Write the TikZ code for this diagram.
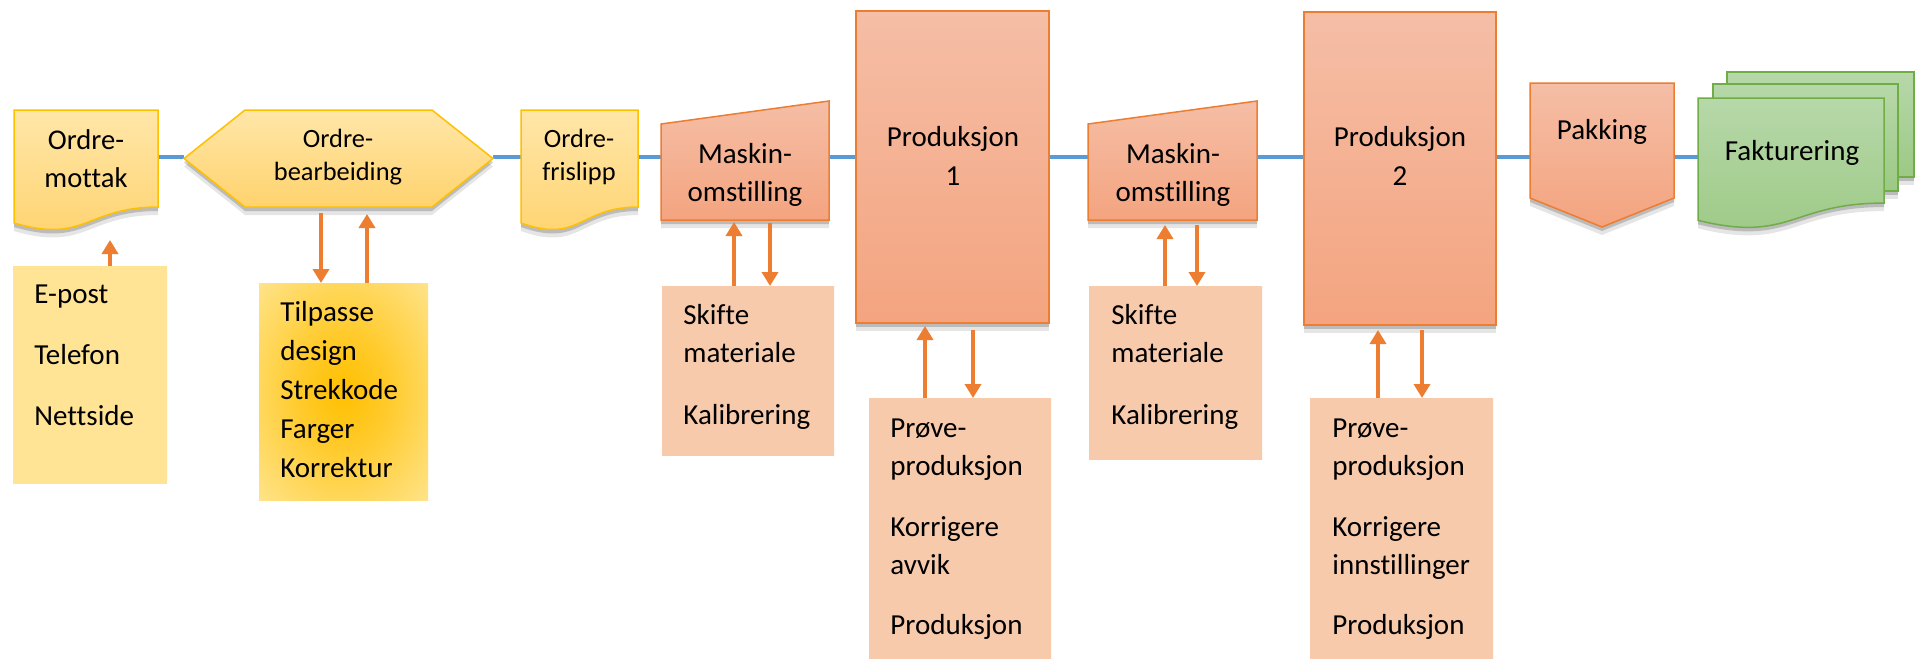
\documentclass[tikz,border=0pt]{standalone}
\usepackage{fontspec}
\setmainfont[Ligatures=NoCommon]{Carlito}
\usetikzlibrary{arrows.meta,shadows,fit}
\definecolor{blueline}{HTML}{5B9BD5}
\definecolor{orline}{HTML}{ED7D31}
\definecolor{goldc}{HTML}{FFC000}
\definecolor{goldb}{HTML}{FFCB2E}
\definecolor{ytop}{HTML}{FFE6A8}
\definecolor{ybot}{HTML}{FFD36E}
\definecolor{otop}{HTML}{F5BEA6}
\definecolor{obot}{HTML}{F4A47F}
\definecolor{gtop}{HTML}{B7D8A9}
\definecolor{gbot}{HTML}{9CC985}
\definecolor{gline}{HTML}{70AD47}
\definecolor{peach}{HTML}{F7CAAC}
\definecolor{peachedge}{HTML}{FBCA68}
\definecolor{lyel}{HTML}{FFE496}
\definecolor{dyel}{HTML}{FFCD50}
\definecolor{tlight}{HTML}{FFE48C}
\pgfdeclareradialshading{epostsh}{\pgfpoint{0bp}{0bp}}{color(0bp)=(lyel);color(36bp)=(lyel);color(66bp)=(dyel)}
\pgfdeclareradialshading{tilpsh}{\pgfpoint{0bp}{0bp}}{color(0bp)=(goldc);color(14bp)=(goldb);color(36bp)=(tlight);color(44bp)=(tlight);color(56bp)=(goldb);color(70bp)=(goldc)}
\pgfdeclareradialshading{peachsh}{\pgfpoint{0bp}{0bp}}{color(0bp)=(peach);color(40bp)=(peach);color(68bp)=(peachedge)}
\newcommand\flowdoc[5]{%
  \path[#1] (#2,#3) -- ({#2+#4},#3) -- ({#2+#4},{#3+0.802*#5})
    .. controls ({#2+0.5*#4},{#3+0.802*#5}) and ({#2+0.5*#4},{#3+1.108*#5}) .. (#2,{#3+0.934*#5}) -- cycle;}
\tikzset{
  shad/.style={drop shadow={shadow xshift=0pt,shadow yshift=-2pt,opacity=0.18,fill=black},
               drop shadow={shadow xshift=0pt,shadow yshift=-4pt,opacity=0.10,fill=black}},
  yshape/.style={shad,draw=goldc,line width=0.75pt,top color=ytop,bottom color=ybot},
  oshape/.style={shad,draw=orline,line width=0.75pt,top color=otop,bottom color=obot},
  gshape/.style={shad,draw=gline,line width=0.75pt,top color=gtop,bottom color=gbot},
  holder/.style={inner sep=0pt,outer sep=0pt,draw=none},
  epbox/.style={holder,shade,shading=epostsh},
  tpbox/.style={holder,shade,shading=tilpsh},
  pcbox/.style={holder,shade,shading=peachsh},
  prodbox/.style={holder,oshape},
  txt/.style={inner sep=0pt,font=\fontsize{14.5}{19}\selectfont,text=black},
  ctxt/.style={txt,align=center,anchor=base},
  ltxt/.style={txt,align=left,anchor=base west},
  flow/.style={draw=blueline,line width=2pt},
  arr/.style={draw=orline,line width=2.2pt,-{Triangle[width=8pt,length=7pt]}},
}
\begin{document}
\begin{tikzpicture}[x=0.5pt,y=-0.5pt]
\useasboundingbox (0,0) rectangle (1919,659);
\fill[white] (0,0) rectangle (1919,659);

% holders for custom shapes
\node[holder, fit={(14,110) (158,231)}] (mottak) {};
\node[holder, fit={(184,110) (493,207)}] (hex) {};
\node[holder, fit={(521,110) (638,231)}] (frislipp) {};
\node[holder, fit={(661,101) (829,220)}] (maskin1) {};
\node[holder, fit={(1088,101) (1257,220)}] (maskin2) {};
\node[holder, fit={(1530,83) (1674,227)}] (pakking) {};
\node[holder, fit={(1698,98) (1884,229)}] (faktura) {};

% flow line
\draw[flow] (mottak.east |- 0,157) -- (hex.west |- 0,157);
\draw[flow] (hex.east |- 0,157) -- (frislipp.west |- 0,157);
\draw[flow] (frislipp.east |- 0,157) -- (maskin1.west |- 0,157);
\draw[flow] (maskin1.east |- 0,157) -- (1049,157);
\draw[flow] (1049,157) -- (maskin2.west |- 0,157);
\draw[flow] (maskin2.east |- 0,157) -- (1304,157);
\draw[flow] (1496,157) -- (pakking.west |- 0,157);
\draw[flow] (pakking.east |- 0,157) -- (faktura.west |- 0,157);

% shapes
\flowdoc{yshape}{14}{110}{144}{121}
\path[yshape] (184,158.5) -- (245,110) -- (432,110) -- (493,158.5) -- (432,207) -- (245,207) -- cycle;
\flowdoc{yshape}{521}{110}{117}{121}
\path[oshape] (661,124) -- (829,101) -- (829,220) -- (661,220) -- cycle;
\path[oshape] (1088,124) -- (1257,101) -- (1257,220) -- (1088,220) -- cycle;
\path[oshape] (1530,83) -- (1674,83) -- (1674,198) -- (1602,227) -- (1530,198) -- cycle;
\path[gshape] (1727,72) rectangle (1914,177);
\path[gshape] (1713,84) rectangle (1898,191);
\flowdoc{gshape}{1698}{98}{186}{131}

\node[prodbox, fit={(856,11) (1049,323)}] (prod1) {};
\node[prodbox, fit={(1304,12) (1496,325)}] (prod2) {};

\node[epbox, fit={(13,266) (167,483)}] (epost) {};
\node[tpbox, fit={(259,283) (428,500)}] (tilp) {};
\node[pcbox, fit={(662,286) (834,455)}] (skifte1) {};
\node[pcbox, fit={(869,398) (1051,659)}] (prove1) {};
\node[pcbox, fit={(1089,286) (1262,459)}] (skifte2) {};
\node[pcbox, fit={(1310,398) (1493,659)}] (prove2) {};

% arrows
\draw[arr, shorten >=4.5pt] (epost.north -| 110,0) -- (mottak.south -| 110,0);
\draw[arr, shorten <=3pt] (hex.south -| 321,0) -- (tilp.north -| 321,0);
\draw[arr, shorten >=3.5pt] (tilp.north -| 367,0) -- (hex.south -| 367,0);
\draw[arr, shorten >=1pt] (skifte1.north -| 734,0) -- (maskin1.south -| 734,0);
\draw[arr, shorten <=1.5pt] (maskin1.south -| 770,0) -- (skifte1.north -| 770,0);
\draw[arr, shorten >=1.5pt] (prove1.north -| 925,0) -- (prod1.south -| 925,0);
\draw[arr, shorten <=3.5pt] (prod1.south -| 973,0) -- (prove1.north -| 973,0);
\draw[arr, shorten >=2.5pt] (skifte2.north -| 1165,0) -- (maskin2.south -| 1165,0);
\draw[arr, shorten <=2.5pt] (maskin2.south -| 1197,0) -- (skifte2.north -| 1197,0);
\draw[arr, shorten >=2.5pt] (prove2.north -| 1378,0) -- (prod2.south -| 1378,0);
\draw[arr, shorten <=2.5pt] (prod2.south -| 1422,0) -- (prove2.north -| 1422,0);

% texts (anchor = baseline of the last line)
\node[ctxt,font=\fontsize{14.3}{19}\selectfont] (mottak-t) at (86,187) {Ordre-\\mottak};
\node[ctxt,font=\fontsize{13.2}{16.5}\selectfont] (hex-t) at (338,180) {Ordre-\\bearbeiding};
\node[ctxt,font=\fontsize{13.2}{16.5}\selectfont] (frislipp-t) at (579,180) {Ordre-\\frislipp};
\node[ctxt] (maskin1-t) at (745,201) {Maskin-\\omstilling};
\node[ctxt,font=\fontsize{14.5}{19.5}\selectfont] (prod1-t) at (953,185) {Produksjon\\1};
\node[ctxt] (maskin2-t) at (1173,201) {Maskin-\\omstilling};
\node[ctxt,font=\fontsize{14.5}{19.5}\selectfont] (prod2-t) at (1400,185) {Produksjon\\2};
\node[ctxt] (pakking-t) at (1602,139) {Pakking};
\node[ctxt] (faktura-t) at (1792,160) {Fakturering};

\node[ltxt,font=\fontsize{14.5}{30.5}\selectfont] (epost-t) at (34,425) {E-post\\Telefon\\Nettside};
\node[ltxt,font=\fontsize{14.5}{19.4}\selectfont] (tilp-t) at (280,477) {Tilpasse\\design\\Strekkode\\Farger\\Korrektur};
\node[ltxt] (skifte1-t) at (683,424) {Skifte\\materiale\\[12pt]Kalibrering};
\node[ltxt] (prove1-t) at (890,634) {Prøve-\\produksjon\\[11.5pt]Korrigere\\avvik\\[11pt]Produksjon};
\node[ltxt] (skifte2-t) at (1111,424) {Skifte\\materiale\\[12pt]Kalibrering};
\node[ltxt] (prove2-t) at (1332,634) {Prøve-\\produksjon\\[11.5pt]Korrigere\\innstillinger\\[11pt]Produksjon};
\end{tikzpicture}
\end{document}
